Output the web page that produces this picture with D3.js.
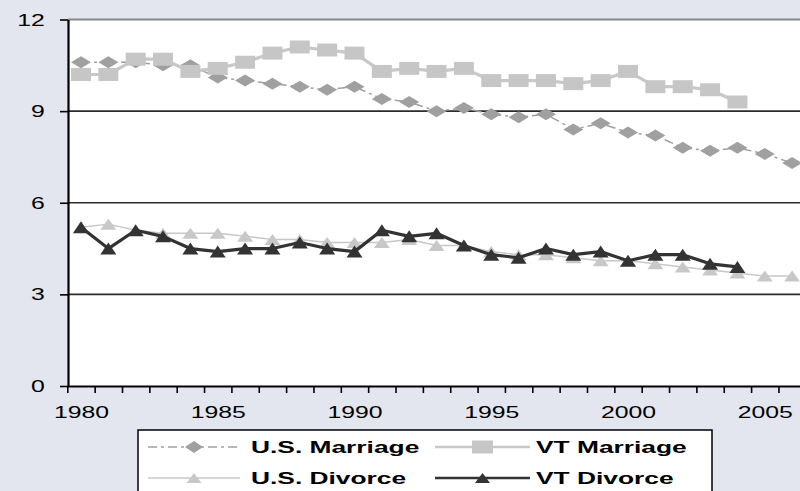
<!DOCTYPE html>
<html lang="en">
<head>
<meta charset="UTF-8">
<title>Marriage and divorce rates</title>
<style>
  body { margin: 0; background: #e3e6ee; }
  svg { display: block; font-family: "Liberation Sans", Arial, sans-serif; }
</style>
<script src="https://cdn.jsdelivr.net/npm/d3@7"></script>
</head>
<body>
<script>
// years on the category axis
var years = d3.range(1980, 2007);
var yearLabels = [1980, 1985, 1990, 1995, 2000, 2005];
var yTicks = [0, 3, 6, 9, 12];

// rates per 1,000 people
var usMarriage = [10.6, 10.6, 10.6, 10.5, 10.5, 10.1, 10.0, 9.9, 9.8, 9.7, 9.8, 9.4, 9.3, 9.0,
                  9.1, 8.9, 8.8, 8.9, 8.4, 8.6, 8.3, 8.2, 7.8, 7.7, 7.8, 7.6, 7.3];
var vtMarriage = [10.2, 10.2, 10.7, 10.7, 10.3, 10.4, 10.6, 10.9, 11.1, 11.0, 10.9, 10.3, 10.4, 10.3,
                  10.4, 10.0, 10.0, 10.0, 9.9, 10.0, 10.3, 9.8, 9.8, 9.7, 9.3];
var usDivorce = [5.2, 5.3, 5.1, 5.0, 5.0, 5.0, 4.9, 4.8, 4.8, 4.7, 4.7, 4.7, 4.8, 4.6,
                 4.6, 4.4, 4.3, 4.3, 4.2, 4.1, 4.1, 4.0, 3.9, 3.8, 3.7, 3.6, 3.6];
var vtDivorce = [5.2, 4.5, 5.1, 4.9, 4.5, 4.4, 4.5, 4.5, 4.7, 4.5, 4.4, 5.1, 4.9, 5.0,
                 4.6, 4.3, 4.2, 4.5, 4.3, 4.4, 4.1, 4.3, 4.3, 4.0, 3.9];

var seriesNames = ["U.S. Marriage", "VT Marriage", "U.S. Divorce", "VT Divorce"];

function grafico() {
  // the original picture is stretched sideways, so text and markers are too
  var sx = 1.55;

  var W = 800, H = 491;
  var svg = d3.select("body").append("svg").attr("width", W).attr("height", H);

  svg.append("rect").attr("width", W).attr("height", H).attr("fill", "#e3e6ee");

  var izq = 68, sup = 19.5, inf = 386;

  var x = d3.scaleLinear().domain([1979.5, 2006.5]).range([67.3, 805.8]);
  var y = d3.scaleLinear().domain([0, 12]).range([inf, sup]);

  // plot area
  svg.append("rect")
    .attr("x", izq).attr("y", sup)
    .attr("width", W - izq + 10).attr("height", inf - sup)
    .attr("fill", "#fff");

  // grid lines
  svg.selectAll(".grid").data([3, 6, 9]).enter().append("line")
    .attr("x1", izq).attr("x2", W)
    .attr("y1", function(d) { return y(d); }).attr("y2", function(d) { return y(d); })
    .attr("stroke", "#2b2b2b").attr("stroke-width", 1.6);

  svg.append("line")
    .attr("x1", izq).attr("x2", W).attr("y1", y(12)).attr("y2", y(12))
    .attr("stroke", "#888").attr("stroke-width", 2);

  // y axis
  var ejeY = svg.append("g")
    .attr("transform", "translate(" + izq + ",0)")
    .call(d3.axisLeft(y).tickValues(yTicks).tickSize(8).tickSizeOuter(0));
  ejeY.select(".domain").attr("stroke", "#000").attr("stroke-width", 2.2);
  ejeY.selectAll(".tick line").attr("stroke", "#000").attr("stroke-width", 1.6);
  ejeY.selectAll(".tick text")
    .attr("x", -15).attr("dy", "0.35em")
    .attr("transform", "scale(" + sx + ",1)")
    .attr("font-size", 16).attr("fill", "#000")
    .style("font-family", "'Liberation Sans', Arial, sans-serif");

  // x axis: ticks between the years, labels every five years
  var bordes = d3.range(1979.5, 2007, 1);
  var ejeX = svg.append("g")
    .attr("transform", "translate(0," + inf + ")")
    .call(d3.axisBottom(x).tickValues(bordes).tickSize(7).tickSizeOuter(0).tickFormat(""));
  ejeX.select(".domain").attr("stroke", "#000").attr("stroke-width", 2);
  ejeX.selectAll(".tick line").attr("stroke", "#000").attr("stroke-width", 1.6);

  var etiquetasX = svg.append("g")
    .attr("transform", "translate(0," + inf + ")")
    .call(d3.axisBottom(x).tickValues(yearLabels).tickSize(0).tickFormat(d3.format("d")));
  etiquetasX.select(".domain").remove();
  etiquetasX.selectAll(".tick text")
    .attr("y", 32).attr("dy", 0)
    .attr("transform", "scale(" + sx + ",1)")
    .attr("font-size", 16).attr("fill", "#000")
    .style("font-family", "'Liberation Sans', Arial, sans-serif");

  // marker shapes (wide, like the stretched original)
  function diamond(w, h) { return "M" + (-w/2) + ",0L0," + (-h/2) + "L" + (w/2) + ",0L0," + (h/2) + "Z"; }
  function square(w, h) { return "M" + (-w/2) + "," + (-h/2) + "h" + w + "v" + h + "h" + (-w) + "Z"; }
  function triangle(w, h) { return "M0," + (-h/2) + "L" + (w/2) + "," + (h/2) + "L" + (-w/2) + "," + (h/2) + "Z"; }

  var estilos = [
    { color: "#a0a0a0", width: 1.5, dash: "9,4,3,4", mark: diamond(20, 12), markColor: "#a0a0a0" },
    { color: "#c8c8c8", width: 3.2, dash: null, mark: square(20, 13), markColor: "#c6c6c6" },
    { color: "#c8c8c8", width: 1.5, dash: null, mark: triangle(16, 11), markColor: "#c8c8c8" },
    { color: "#333333", width: 3.2, dash: null, mark: triangle(16, 12), markColor: "#333333" }
  ];

  var valores = [usMarriage, vtMarriage, usDivorce, vtDivorce];

  var linea = d3.line()
    .x(function(d) { return x(d.year); })
    .y(function(d) { return y(d.value); });

  valores.forEach(function(serie, i) {
    var datos = serie.map(function(v, j) { return { year: years[j], value: v }; });
    var st = estilos[i];
    var g = svg.append("g");
    g.append("path").datum(datos)
      .attr("d", linea)
      .attr("fill", "none")
      .attr("stroke", st.color)
      .attr("stroke-width", st.width)
      .attr("stroke-linejoin", "round")
      .attr("stroke-dasharray", st.dash);
    g.selectAll(".m").data(datos).enter().append("path")
      .attr("d", st.mark)
      .attr("transform", function(d) { return "translate(" + x(d.year) + "," + y(d.value) + ")"; })
      .attr("fill", st.markColor);
  });

  // legend
  var leyenda = svg.append("g");
  leyenda.append("rect")
    .attr("x", 138).attr("y", 430).attr("width", 574).attr("height", 80)
    .attr("fill", "#fff").attr("stroke", "#000").attr("stroke-width", 1.5);

  var posLeyenda = [
    { x1: 148, x2: 240, tx: 251, cy: 447 },
    { x1: 435, x2: 530, tx: 536, cy: 447 },
    { x1: 148, x2: 240, tx: 251, cy: 478 },
    { x1: 435, x2: 530, tx: 536, cy: 478 }
  ];

  seriesNames.forEach(function(nombre, i) {
    var p = posLeyenda[i], st = estilos[i];
    leyenda.append("line")
      .attr("x1", p.x1).attr("x2", p.x2).attr("y1", p.cy).attr("y2", p.cy)
      .attr("stroke", st.color).attr("stroke-width", st.width === 1.5 ? 1.5 : 2.5)
      .attr("stroke-dasharray", st.dash);
    leyenda.append("path")
      .attr("d", i === 0 ? diamond(18, 12) : i === 1 ? square(21, 13) : triangle(15, 10))
      .attr("transform", "translate(" + ((p.x1 + p.x2) / 2) + "," + p.cy + ")")
      .attr("fill", st.markColor);
    leyenda.append("text")
      .attr("transform", "translate(" + p.tx + "," + (p.cy + 6) + ") scale(" + sx + ",1)")
      .attr("font-size", 17).attr("font-weight", "bold")
      .text(nombre);
  });
}
grafico();
</script>
</body>
</html>
